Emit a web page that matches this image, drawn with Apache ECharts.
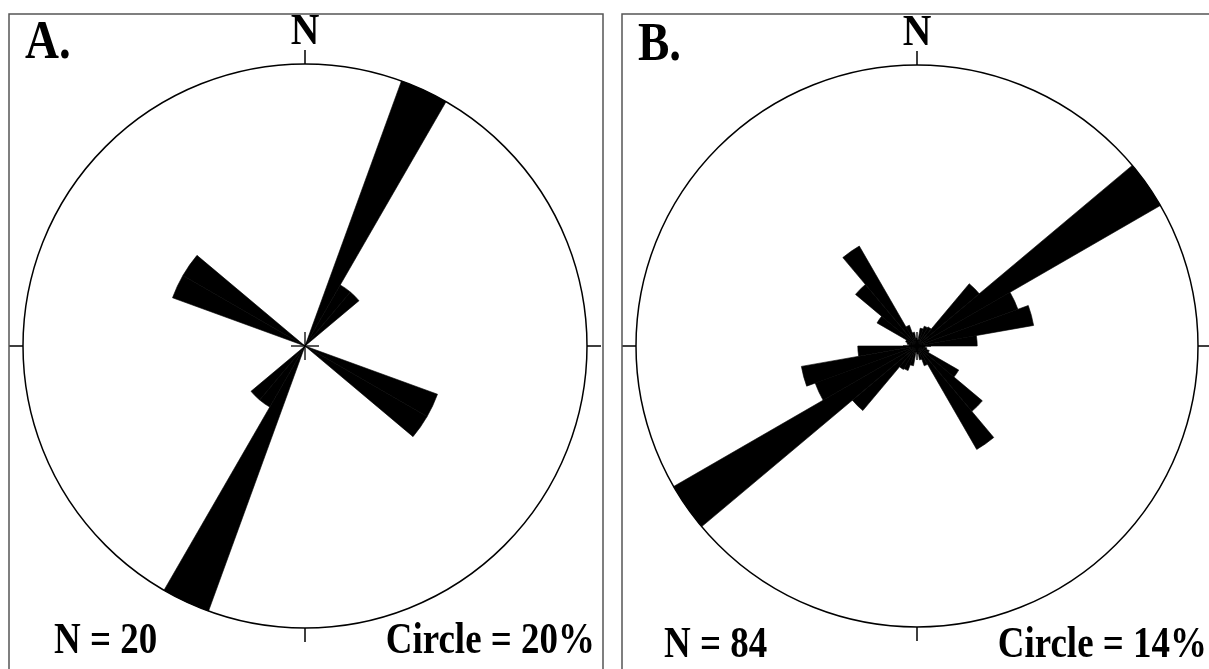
<!DOCTYPE html>
<html>
<head>
<meta charset="utf-8">
<script src="https://cdn.jsdelivr.net/npm/echarts@6/dist/echarts.min.js"></script>
<style>
html,body{margin:0;padding:0;background:#fff;}
#chart{width:1209px;height:669px;}
</style>
</head>
<body>
<div id="chart"></div>
<script>
// 10-degree direction bins (azimuth, clockwise from north)
const bins = ['0-10','10-20','20-30','30-40','40-50','50-60','60-70','70-80','80-90',
  '90-100','100-110','110-120','120-130','130-140','140-150','150-160','160-170','170-180',
  '180-190','190-200','200-210','210-220','220-230','230-240','240-250','250-260','260-270',
  '270-280','280-290','290-300','300-310','310-320','320-330','330-340','340-350','350-360'];

// Panel A: percentage per bin (N = 20, circle = 20%)
const freqA = [0,0,20,5,5,0,0,0,0,
  0,0,10,10,0,0,0,0,0,
  0,0,20,5,5,0,0,0,0,
  0,0,10,10,0,0,0,0,0];

// Panel B: percentage per bin (N = 84, circle = 14%)
const freqB = [0.3,0.9,1.05,1.1,4.05,14.0,5.35,5.9,3.0,
  0.4,0.5,0.65,2.4,4.25,5.95,1.05,0.7,0.4,
  0.3,1.0,1.3,1.35,4.2,14.0,5.4,5.85,2.95,
  0.4,0.5,0.6,2.3,4.0,5.75,1.1,0.7,0.4];

const circleA = 20;
const circleB = 14;
const labelsA = {panel:'A.', n:'N = 20', circle:'Circle = 20%'};
const labelsB = {panel:'B.', n:'N = 84', circle:'Circle = 14%'};

const chart = echarts.init(document.getElementById('chart'));
function f(s){return 'bold ' + s + 'px "Liberation Serif", "Times New Roman", serif';}

function outerAngle(){
  return {
    type:'category', data:bins, startAngle:90, clockwise:true, boundaryGap:true,
    axisLine:{show:true, lineStyle:{color:'#000', width:1.5}},
    axisTick:{show:true, interval:8, length:14, inside:false, lineStyle:{color:'#000', width:1.5}},
    axisLabel:{show:false}, splitLine:{show:false}
  };
}
function crossAngle(){
  return {
    type:'category', data:bins, startAngle:90, clockwise:true, boundaryGap:true,
    axisLine:{show:false}, axisTick:{show:false, interval:8}, axisLabel:{show:false, interval:8},
    splitLine:{show:true, interval:8, lineStyle:{color:'#222', width:1.5}}
  };
}
function hiddenRadius(max, idx){
  return {type:'value', polarIndex:idx, min:0, max:max,
    axisLine:{show:false}, axisTick:{show:false}, axisLabel:{show:false}, splitLine:{show:false}};
}
function txt(text, x, y, size, align, sx){
  return {type:'text', x:x, y:y, scaleX:sx, scaleY:1, z:10,
    style:{text:text, font:f(size), fill:'#000', align:align, verticalAlign:'middle'}};
}

const option = {
  animation:false,
  backgroundColor:'#fff',
  polar:[
    {center:[305,346], radius:282},
    {center:[917,346], radius:281},
    {center:[305,346], radius:14},
    {center:[917,346], radius:14}
  ],
  angleAxis:[
    Object.assign(outerAngle(), {polarIndex:0}),
    Object.assign(outerAngle(), {polarIndex:1}),
    Object.assign(crossAngle(), {polarIndex:2}),
    Object.assign(crossAngle(), {polarIndex:3})
  ],
  radiusAxis:[
    hiddenRadius(circleA,0), hiddenRadius(circleB,1), hiddenRadius(1,2), hiddenRadius(1,3)
  ],
  series:[
    {type:'bar', coordinateSystem:'polar', polarIndex:0, data:freqA, barCategoryGap:'0%',
      itemStyle:{color:'#000', borderColor:'#000', borderWidth:0.6}, silent:true, z:2},
    {type:'bar', coordinateSystem:'polar', polarIndex:1, data:freqB, barCategoryGap:'0%',
      itemStyle:{color:'#000', borderColor:'#000', borderWidth:0.6}, silent:true, z:2}
  ],
  graphic:[
    {type:'rect', shape:{x:9, y:14, width:594, height:700}, style:{fill:'none', stroke:'#555', lineWidth:1.5}, z:1},
    {type:'rect', shape:{x:622, y:14, width:640, height:700}, style:{fill:'none', stroke:'#555', lineWidth:1.5}, z:1},
    txt(labelsA.panel, 25, 44, 54, 'left', 0.87),
    txt('N', 305, 33, 44, 'center', 0.9),
    txt(labelsA.n, 54, 642, 44, 'left', 0.84),
    txt(labelsA.circle, 595, 642, 44, 'right', 0.84),
    txt(labelsB.panel, 638, 46, 54, 'left', 0.87),
    txt('N', 917, 34, 44, 'center', 0.9),
    txt(labelsB.n, 664, 646, 44, 'left', 0.84),
    txt(labelsB.circle, 1207, 646, 44, 'right', 0.84)
  ]
};
chart.setOption(option);
</script>
</body>
</html>
